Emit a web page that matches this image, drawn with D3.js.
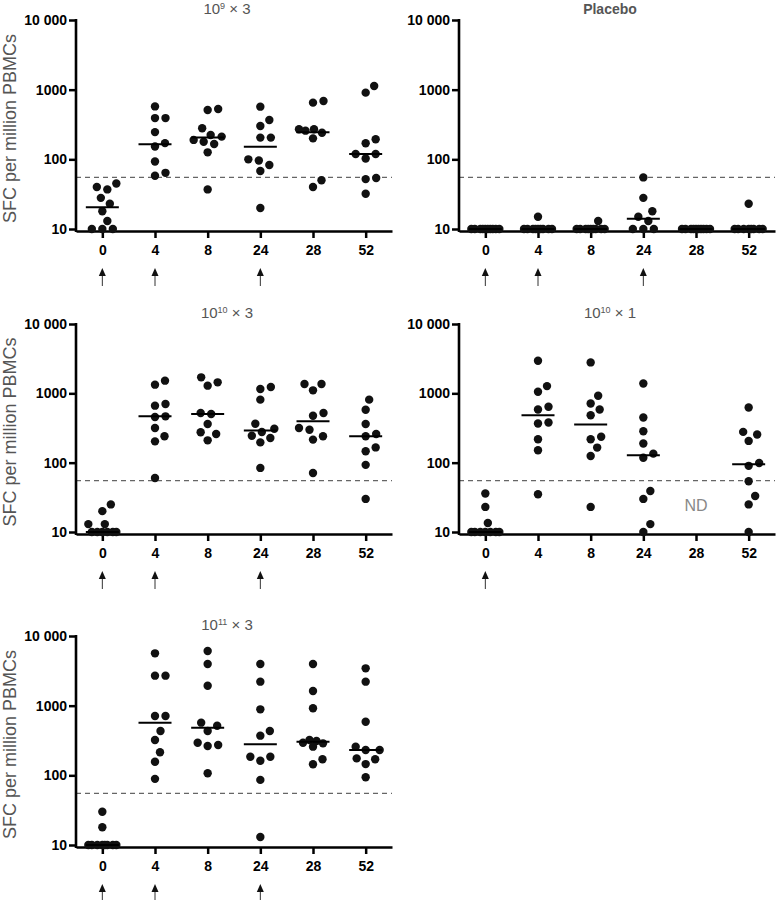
<!DOCTYPE html>
<html>
<head>
<meta charset="utf-8">
<script src="https://cdn.jsdelivr.net/npm/d3@7"></script>
<style>
  body { margin: 0; background: #fff; }
  svg { display: block; }
  text { font-family: "Liberation Sans", Arial, sans-serif; }
</style>
</head>
<body>
<svg id="chart" width="777" height="900"></svg>
<script>
// weeks after first dose
const weeks = ["0", "4", "8", "24", "28", "52"];
const yTicks = [10, 100, 1000, 10000];
const cutoff = 55;   // positivity threshold (dashed line)

// SFC per million PBMCs, one array per week
const dose9x3 = [
  [45, 40, 37, 28, 23, 18, 13, 10, 10, 10],
  [575, 391, 391, 246, 171, 153, 93, 64, 58],
  [528, 511, 279, 224, 212, 190, 179, 166, 126, 37],
  [570, 367, 301, 205, 205, 100, 96, 83, 68, 20],
  [688, 651, 270, 270, 258, 241, 200, 50, 40],
  [1129, 906, 194, 170, 119, 119, 103, 54, 52, 32]
];
const med9x3 = [20.5, 165, 205, 152, 244, 119];
const doses9x3 = ["0", "4", "24"];

const placebo = [
  [10, 10, 10, 10, 10, 10, 10, 10, 10, 10],
  [15, 10, 10, 10, 10, 10, 10, 10, 10, 10],
  [13, 10, 10, 10, 10, 10, 10, 10, 10, 10],
  [55, 28, 18, 15, 13, 10, 10, 10],
  [10, 10, 10, 10, 10, 10, 10, 10, 10, 10],
  [23, 10, 10, 10, 10, 10, 10, 10, 10]
];
const medPlacebo = [10, 10, 10, 14, 10, 10];
const dosesPlacebo = ["0", "4", "24"];

const dose10x3 = [
  [25, 20, 13, 13, 10, 10, 10, 10, 10, 10],
  [1523, 1334, 702, 664, 466, 456, 316, 240, 203, 60],
  [1701, 1441, 1290, 520, 503, 361, 274, 259, 210],
  [1234, 1155, 811, 365, 309, 277, 245, 227, 196, 84],
  [1364, 1364, 1105, 520, 476, 316, 299, 240, 215, 71],
  [811, 581, 361, 259, 240, 166, 146, 93, 30]
];
const med10x3 = [10, 466, 504, 292, 395, 240];
const doses10x3 = ["0", "4", "24"];

const dose10x1 = [
  [36, 23, 13.5, 10, 10, 10, 10, 10, 10, 10],
  [2951, 1271, 1052, 639, 585, 379, 367, 218, 151, 35],
  [2792, 921, 714, 585, 484, 236, 218, 165, 125, 23],
  [1389, 448, 284, 189, 135, 118, 39, 30, 13, 10],
  [],
  [625, 278, 255, 206, 99, 90, 54, 33, 25, 10]
];
const med10x1 = [10, 484, 355, 128, null, 95];
const doses10x1 = ["0"];

const dose11x3 = [
  [30, 18, 10, 10, 10, 10, 10, 10, 10, 10],
  [5637, 2696, 2696, 711, 711, 433, 321, 214, 157, 89],
  [6095, 3963, 1936, 570, 516, 433, 294, 272, 264, 107],
  [3963, 2210, 886, 433, 371, 185, 185, 162, 86, 13],
  [3963, 1624, 916, 321, 311, 294, 288, 258, 170, 144],
  [3434, 2210, 589, 258, 231, 231, 175, 170, 145, 94]
];
const med11x3 = [10, 570, 483, 279, 304, 231];
const doses11x3 = ["0", "4", "24"];

// panel table: data + where each panel sits
const panels = [
  { exp: "9",  tail: " \u00d7 3", data: dose9x3,  med: med9x3,  doses: doses9x3,  left: 76,  top: 20,  bottom: 229, yLabel: true },
  { name: "Placebo",             data: placebo,  med: medPlacebo, doses: dosesPlacebo, left: 459, top: 20, bottom: 229, yLabel: false },
  { exp: "10", tail: " \u00d7 3", data: dose10x3, med: med10x3, doses: doses10x3, left: 76,  top: 324, bottom: 532, yLabel: true },
  { exp: "10", tail: " \u00d7 1", data: dose10x1, med: med10x1, doses: doses10x1, left: 459, top: 324, bottom: 532, yLabel: false, nd: "28" },
  { exp: "11", tail: " \u00d7 3", data: dose11x3, med: med11x3, doses: doses11x3, left: 76,  top: 636, bottom: 845, yLabel: true }
];

const svg = d3.select("#chart");
const plotW = 316;
const r = 4.2;
const spacing = 10.5;   // centre distance used when spreading dots
const grey = "#555";

function fmtTick(v) {
  return v >= 10000 ? "10 000" : String(v);
}

// simple beeswarm: spread overlapping dots sideways
function swarm(vals, y, maxOff) {
  let pts = vals.map(v => ({ v: v, cy: y(v), dx: 0 }));
  let order = pts.slice().sort((a, b) => a.v - b.v);
  let cands = [0];
  for (let s = 0.5; s <= maxOff; s += 0.5) cands.push(s, -s);
  let placed = [];
  for (let p of order) {
    let best = 0, bestD = -1;
    for (let c of cands) {
      let md = Infinity;
      for (let q of placed) {
        let d = Math.hypot(c - q.dx, p.cy - q.cy);
        if (d < md) md = d;
      }
      if (md >= spacing) { best = c; break; }
      if (md > bestD) { bestD = md; best = c; }
    }
    p.dx = best;
    placed.push(p);
  }
  return pts;
}

for (let pn of panels) {
  let g = svg.append("g");
  let axisY = pn.bottom + 2;

  let x = d3.scalePoint()
    .domain(weeks)
    .range([pn.left, pn.left + plotW])
    .padding(0.5);

  let y = d3.scaleLog()
    .domain([10, 10000])
    .range([pn.bottom, pn.top]);

  // title
  let t = g.append("text")
    .attr("x", pn.left + 151)
    .attr("y", pn.top - 6)
    .attr("text-anchor", "middle")
    .attr("font-size", 15)
    .attr("fill", grey);
  if (pn.name) {
    t.attr("font-weight", "bold").attr("font-size", 14).text(pn.name);
  } else {
    t.append("tspan").text("10");
    t.append("tspan").attr("dy", -5).attr("font-size", 9).text(pn.exp);
    t.append("tspan").attr("dy", 5).text(pn.tail);
  }

  // dashed cutoff
  g.append("line")
    .attr("x1", pn.left).attr("x2", pn.left + plotW)
    .attr("y1", y(cutoff)).attr("y2", y(cutoff))
    .attr("stroke", "#666")
    .attr("stroke-width", 1.1)
    .attr("stroke-dasharray", "5,4");

  // y axis
  let yAxis = d3.axisLeft(y)
    .tickValues(yTicks)
    .tickFormat(fmtTick)
    .tickSize(7)
    .tickPadding(2);
  let ya = g.append("g")
    .attr("transform", "translate(" + pn.left + ",0)")
    .call(yAxis);
  ya.select(".domain").remove();
  ya.selectAll(".tick line").attr("stroke", "#000").attr("stroke-width", 2.5);
  ya.selectAll(".tick text")
    .attr("font-size", 14)
    .attr("font-weight", "bold")
    .attr("fill", "#000")
    .style("font-family", "\"Liberation Sans\", Arial, sans-serif");
  g.append("line")
    .attr("x1", pn.left).attr("x2", pn.left)
    .attr("y1", pn.top - 1).attr("y2", axisY + 1)
    .attr("stroke", "#000").attr("stroke-width", 2.6);

  // x axis
  let xAxis = d3.axisBottom(x).tickSize(7).tickSizeOuter(0).tickPadding(7);
  let xa = g.append("g")
    .attr("transform", "translate(0," + axisY + ")")
    .call(xAxis);
  xa.select(".domain").attr("stroke", "#000").attr("stroke-width", 2.6);
  xa.selectAll(".tick line").attr("stroke", "#000").attr("stroke-width", 2.5);
  xa.selectAll(".tick text")
    .attr("font-size", 14)
    .attr("font-weight", "bold")
    .attr("fill", "#000")
    .style("font-family", "\"Liberation Sans\", Arial, sans-serif");

  if (pn.yLabel) {
    g.append("text")
      .attr("transform", "translate(16," + ((pn.top + pn.bottom) / 2 + 4) + ") rotate(-90)")
      .attr("text-anchor", "middle")
      .attr("font-size", 18)
      .attr("fill", grey)
      .text("SFC per million PBMCs");
  }

  // dots
  pn.data.forEach((vals, i) => {
    let cx = x(weeks[i]);
    let pts = swarm(vals, y, 14);
    g.selectAll(null)
      .data(pts)
      .enter().append("circle")
      .attr("cx", d => cx + d.dx)
      .attr("cy", d => d.cy)
      .attr("r", r)
      .attr("fill", "#111");
    if (pn.med[i] != null) {
      g.append("line")
        .attr("x1", cx - 16.5).attr("x2", cx + 16.5)
        .attr("y1", y(pn.med[i])).attr("y2", y(pn.med[i]))
        .attr("stroke", "#000")
        .attr("stroke-width", 2);
    }
  });

  if (pn.nd) {
    g.append("text")
      .attr("x", x(pn.nd))
      .attr("y", y(24))
      .attr("dy", "0.35em")
      .attr("text-anchor", "middle")
      .attr("font-size", 16)
      .attr("fill", "#888")
      .text("ND");
  }

  // dosing arrows
  for (let wk of pn.doses) {
    let ax = x(wk), top = axisY + 37;
    g.append("line")
      .attr("x1", ax).attr("x2", ax)
      .attr("y1", top + 6).attr("y2", top + 18)
      .attr("stroke", "#333").attr("stroke-width", 1);
    g.append("path")
      .attr("d", "M" + (ax - 3.5) + "," + (top + 8) + "L" + ax + "," + top + "L" + (ax + 3.5) + "," + (top + 8) + "Z")
      .attr("fill", "#111");
  }
}
</script>
</body>
</html>
